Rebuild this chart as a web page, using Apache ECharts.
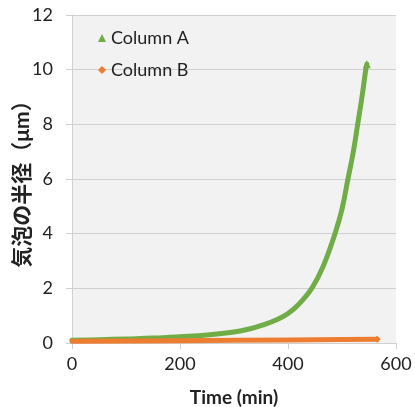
<!DOCTYPE html>
<html>
  <head>
    <meta charset="utf-8" />
    <title>ECharts</title>
    <script src="https://cdn.jsdelivr.net/npm/echarts@6/dist/echarts.min.js"></script>
  </head>
  <body style="margin:0;background:#fff;">
    <div id="main" style="width: 415px;height:407px;"></div>
    <script type="text/javascript">
      // 値は図から読み取ったもの
      var timeA = [0, 50, 100, 150, 200, 250, 300, 330, 354, 380, 400, 420, 444, 465, 487, 500, 511, 521, 529, 537, 544, 546];
      var columnA = [0.10, 0.12, 0.15, 0.18, 0.23, 0.29, 0.40, 0.52, 0.66, 0.86, 1.08, 1.42, 2.0, 2.8, 4.0, 4.9, 6.0, 7.0, 8.0, 9.0, 10.0, 10.2];
      var timeB = [0, 100, 200, 300, 400, 500, 565];
      var columnB = [0.06, 0.07, 0.08, 0.10, 0.11, 0.13, 0.14];
      var xTicks = [0, 200, 400, 600];
      var yTicks = [0, 2, 4, 6, 8, 10, 12];

      var myChart = echarts.init(document.getElementById('main'));

      function pairs(xs, ys, endSymbol) {
        return xs.map(function (x, i) {
          return {
            value: [x, ys[i]],
            symbol: i === xs.length - 1 ? endSymbol : 'none'
          };
        });
      }

      var font = 'Lato, "Noto Sans CJK JP", sans-serif';

      var option = {
        textStyle: { fontFamily: font },
        grid: {
          left: 72,
          right: 19,
          top: 15,
          bottom: 64,
          outerBoundsMode: 'none',
          containLabel: false,
          show: true,
          backgroundColor: '#f2f2f2',
          borderWidth: 0
        },
        legend: {
          orient: 'vertical',
          left: 93,
          top: 24,
          itemWidth: 8,
          itemHeight: 8,
          itemGap: 14,
          textStyle: { fontSize: 18, color: '#222', fontFamily: font, lineHeight: 18 },
          data: [
            { name: 'Column A', icon: 'triangle' },
            { name: 'Column B', icon: 'diamond' }
          ]
        },
        xAxis: {
          type: 'value',
          min: xTicks[0],
          max: xTicks[xTicks.length - 1],
          interval: 200,
          name: 'Time (min)',
          nameLocation: 'middle',
          nameGap: 45,
          nameMoveOverlap: false,
          nameTextStyle: { fontSize: 19, fontWeight: 'bold', color: '#222', fontFamily: font },
          axisLine: { show: true, lineStyle: { color: '#d0d0d0' } },
          axisTick: { show: true, length: 6, lineStyle: { color: '#d0d0d0' } },
          splitLine: { show: false },
          axisLabel: { fontSize: 18, color: '#222', margin: 12 }
        },
        yAxis: {
          type: 'value',
          min: yTicks[0],
          max: yTicks[yTicks.length - 1],
          interval: 2,
          name: '気泡の半径（μm）',
          nameLocation: 'middle',
          nameGap: 39,
          nameMoveOverlap: false,
          nameTextStyle: {
            fontSize: 21,
            fontWeight: 'bold',
            color: '#222',
            fontFamily: font
          },
          axisLine: { show: true, lineStyle: { color: '#d0d0d0' } },
          axisTick: { show: true, length: 6, lineStyle: { color: '#d0d0d0' } },
          splitLine: { show: true, lineStyle: { color: '#d0d0d0' } },
          axisLabel: { fontSize: 18, color: '#222', margin: 19 }
        },
        series: [
          {
            name: 'Column A',
            type: 'line',
            data: pairs(timeA, columnA, 'triangle'),
            symbolSize: 8,
            smooth: 0.4,
            color: '#70ad47',
            lineStyle: { width: 5, color: '#70ad47', cap: 'round', join: 'round' },
            itemStyle: { color: '#70ad47' }
          },
          {
            name: 'Column B',
            type: 'line',
            data: pairs(timeB, columnB, 'diamond'),
            symbolSize: 7,
            color: '#ed7d31',
            lineStyle: { width: 5, color: '#ed7d31', cap: 'round', join: 'round' },
            itemStyle: { color: '#ed7d31' }
          }
        ]
      };

      myChart.setOption(option);
    </script>
  </body>
</html>
